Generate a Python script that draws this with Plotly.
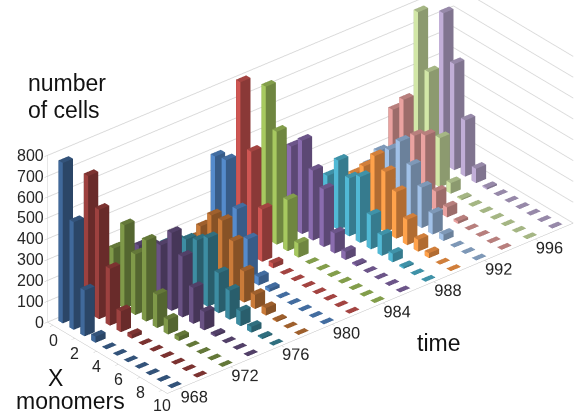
import numpy as np
import plotly.graph_objects as go

times = [968, 970, 972, 974, 976, 978, 980, 982, 984, 986, 988, 990, 992, 994, 996, 998]
monomers = [0, 1, 2, 3, 4, 5, 6, 7, 8, 9, 10]

t968 = [770, 517, 220, 30, 1, 1, 1, 1, 1, 1, 1]
t970 = [656, 525, 273, 100, 18, 1, 1, 1, 1, 1, 1]
t972 = [257, 400, 291, 388, 159, 71, 20, 1, 1, 1, 1]
t974 = [220, 250, 283, 374, 291, 172, 88, 10, 1, 1, 1]
t976 = [180, 220, 260, 287, 329, 192, 139, 71, 28, 7, 1]
t978 = [150, 241, 325, 330, 262, 149, 68, 36, 6, 1, 1]
t980 = [494, 507, 303, 190, 40, 15, 1, 1, 1, 1, 1]
t982 = [800, 497, 251, 23, 1, 1, 1, 1, 1, 1, 1]
t984 = [727, 542, 245, 68, 1, 1, 1, 1, 1, 1, 1]
t986 = [389, 448, 335, 276, 96, 39, 8, 1, 1, 1, 1]
t988 = [130, 228, 332, 278, 316, 163, 98, 41, 8, 1, 1]
t990 = [100, 186, 253, 334, 289, 224, 122, 57, 24, 1, 1]
t992 = [150, 244, 281, 352, 268, 194, 100, 30, 1, 1, 1]
t994 = [361, 440, 298, 330, 92, 48, 12, 1, 1, 1, 1]
t996 = [778, 521, 236, 51, 6, 1, 1, 1, 1, 1, 1]
t998 = [722, 509, 270, 69, 8, 1, 1, 1, 1, 1, 1]
series = [t968, t970, t972, t974, t976, t978, t980, t982, t984, t986, t988, t990, t992, t994, t996, t998]

base_colors = ["#4F81BD", "#C0504D", "#9BBB59", "#8064A2", "#4BACC6", "#F79646"]
x_ticks = [968, 972, 976, 980, 984, 988, 992, 996]
y_ticks = [0, 2, 4, 6, 8, 10]
z_ticks = [0, 100, 200, 300, 400, 500, 600, 700, 800]


def rgb(h):
    return np.array([int(h[i:i + 2], 16) for i in (1, 3, 5)], float)


def tone(i):
    c = rgb(base_colors[i % 6])
    if i < 6:
        return c * 0.76
    if i < 12:
        return c
    return c + (255 - c) * 0.4


def css(c, f):
    c = np.clip(c * f, 0, 255).astype(int)
    return f"rgb({c[0]},{c[1]},{c[2]})"


fig = go.Figure()
half_x, half_y = 0.4, 0.2
for i, (t, vals) in enumerate(zip(times, series)):
    c = tone(i)
    top, left, right = css(c, 0.85), css(c, 1.08), css(c, 0.72)
    X, Y, Z, I, J, K, F = [], [], [], [], [], [], []
    for m, v in zip(monomers, vals):
        n = len(X)
        x0, x1 = t - half_x, t + half_x
        y0, y1 = m - half_y, m + half_y
        for zz in (0, v):
            X += [x0, x1, x1, x0]
            Y += [y0, y0, y1, y1]
            Z += [zz] * 4
        quads = [
            ((4, 5, 6, 7), top),
            ((0, 3, 7, 4), left),
            ((3, 2, 6, 7), right),
            ((1, 2, 6, 5), right),
            ((0, 1, 5, 4), right),
        ]
        for q, col in quads:
            I += [n + q[0], n + q[0]]
            J += [n + q[1], n + q[2]]
            K += [n + q[2], n + q[3]]
            F += [col, col]
    fig.add_trace(go.Mesh3d(x=X, y=Y, z=Z, i=I, j=J, k=K, facecolor=F, flatshading=True,
                            lighting=dict(ambient=1, diffuse=0, specular=0, fresnel=0, roughness=1),
                            hoverinfo="skip", showscale=False))

alpha, theta = np.radians(40), np.radians(30)
R = np.array([np.cos(alpha), -np.sin(alpha), 0])
U = np.array([np.sin(theta) * np.sin(alpha), np.sin(theta) * np.cos(alpha), np.cos(theta)])
D = np.array([-np.sin(alpha) * np.cos(theta), -np.cos(alpha) * np.cos(theta), np.sin(theta)])
dist = 3.0
s = 192.6
center = -(19 / s) * R - (16.5 / s) * U
eye = center + dist * D

tick_font = dict(family="Liberation Sans", size=16, color="#262626")
axis_common = dict(showbackground=False, showspikes=False, zeroline=False, title=dict(text=""),
                   showline=True, linecolor="#BFBFBF", linewidth=1, ticks="outside", ticklen=4, tickangle=0,
                   tickcolor="#BFBFBF", tickfont=dict(family="Liberation Sans", size=14, color="#262626"))


def label(text, px, py, anchor="center", ya="middle"):
    return dict(text=text, x=px / 580, y=1 - py / 414, xref="paper", yref="paper", xanchor=anchor, yanchor=ya,
                showarrow=False, align="left", font=dict(family="Liberation Sans", size=23, color="#111111"))


y_tick_labels = [dict(x=times[0] - 1, y=v, z=0, text=str(v), showarrow=False, xanchor="center", yanchor="middle",
                      xshift=0, yshift=-15, font=tick_font)
                 for v in y_ticks]
z_tick_labels = [dict(x=times[0] - 1, y=monomers[0] - 0.5, z=v, text=str(v), showarrow=False, xanchor="right",
                      yanchor="middle", xshift=-2, yshift=0, font=tick_font)
                 for v in z_ticks]

fig.update_layout(
    width=580, height=414, margin=dict(l=0, r=0, t=0, b=0),
    paper_bgcolor="white", showlegend=False,
    scene=dict(
        domain=dict(x=[0, 1], y=[0, 1]),
        aspectmode="manual", aspectratio=dict(x=2.56, y=0.90, z=0.93),
        camera=dict(projection=dict(type="orthographic"),
                    up=dict(x=0, y=0, z=1),
                    center=dict(x=center[0], y=center[1], z=center[2]),
                    eye=dict(x=eye[0], y=eye[1], z=eye[2])),
        xaxis=dict(range=[967, 999], tickvals=x_ticks, ticktext=[str(v) for v in x_ticks], showgrid=False, **axis_common),
        yaxis=dict(range=[10.5, -0.5], tickvals=y_ticks, ticktext=[str(v) for v in y_ticks], showgrid=False,
                   showticklabels=False, **axis_common),
        zaxis=dict(range=[0, 800], tickvals=z_ticks, ticktext=[str(v) for v in z_ticks], showgrid=True, gridcolor="#D9D9D9",
                   showticklabels=False, **axis_common),
        annotations=y_tick_labels + z_tick_labels,
    ),
    annotations=[
        label("number", 67, 83),
        label("of cells", 64, 110),
        label("X", 55, 378),
        label("monomers", 70, 401),
        label("time", 438, 343),
    ],
)
fig.write_html("out.html", config=dict(displayModeBar=False),
               post_script="document.body.style.margin='0';")
